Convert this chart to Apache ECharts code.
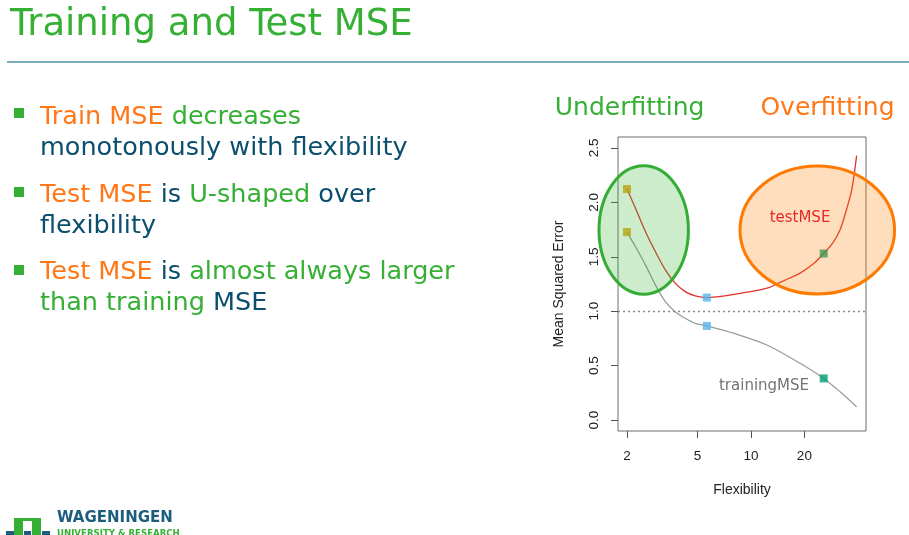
<!DOCTYPE html>
<html><head><meta charset="utf-8">
<script src="https://cdn.jsdelivr.net/npm/echarts@6/dist/echarts.min.js"></script>
<style>html,body{margin:0;padding:0;background:#fff}#c{width:909px;height:535px}</style>
</head><body><div id="c"></div>
<script>
// ---- data ----
const flexTest = [2, 2.23, 2.54, 2.89, 3.29, 3.74, 4.26, 4.85, 5.64, 7.9, 12.3, 14.9, 18.9, 22.5, 25.7, 29, 31.8, 34.5, 37, 39.4];
const testMSE  = [2.122, 1.948, 1.732, 1.548, 1.380, 1.258, 1.180, 1.141, 1.125, 1.152, 1.211, 1.272, 1.350, 1.435, 1.53, 1.63, 1.748, 1.93, 2.116, 2.429];
const flexTrain = [2, 2.23, 2.54, 2.89, 3.29, 3.74, 4.26, 4.85, 5.64, 7.97, 12.3, 18.9, 25.7, 31.8, 39.4];
const trainMSE  = [1.727, 1.594, 1.426, 1.242, 1.088, 0.996, 0.935, 0.889, 0.865, 0.798, 0.690, 0.522, 0.383, 0.260, 0.122];
const markerFlex  = [2, 5.64, 25.7];
const markerTest  = [2.122, 1.125, 1.53];
const markerTrain = [1.727, 0.865, 0.383];
const markerColors = ['#E69F00', '#56B4E9', '#009E73'];
const xTicks = [2, 5, 10, 20];
const yTicks = [0, 0.5, 1, 1.5, 2, 2.5];
const refLevel = 1.0;
const xRange = [1.78, 44.5];
const yRange = [-0.1, 2.6];

const GREEN = '#36b034', ORANGE = '#ff7716', BLUE = '#0b4f6e';
const slideFont = "'DejaVu Sans', Verdana, sans-serif";
const chartFont = "'Liberation Sans', Arial, Helvetica, sans-serif";
const BF = '25.5px ' + slideFont;

const chart = echarts.init(document.getElementById('c'), null, {renderer: 'canvas'});

function bulletLine(text, y) {
  return {type: 'text', x: 40, y: y, z: 20,
    style: {text: text, x: 0, y: 0, font: BF, fill: BLUE, verticalAlign: 'middle',
      rich: {o: {fill: ORANGE, font: BF}, g: {fill: GREEN, font: BF}, b: {fill: BLUE, font: BF}}}};
}
function bulletSquare(y) {
  return {type: 'rect', shape: {x: 14, y: y, width: 10, height: 10}, style: {fill: GREEN}, z: 20};
}

const option = {
  backgroundColor: '#fff',
  animation: false,
  grid: {left: 618, right: 43, top: 137, bottom: 104, show: true, borderColor: '#6f6f6f', borderWidth: 1,
         containLabel: false, outerBoundsMode: 'none'},
  xAxis: [
    {type: 'log', logBase: 10, min: xRange[0], max: xRange[1], show: false},
    {type: 'value', position: 'bottom', min: Math.log10(xRange[0]), max: Math.log10(xRange[1]),
     name: 'Flexibility', nameLocation: 'middle', nameGap: 52,
     nameTextStyle: {fontFamily: chartFont, fontSize: 14, color: '#222'},
     axisLine: {show: false}, splitLine: {show: false},
     axisTick: {show: true, inside: false, length: 7, lineStyle: {color: '#555'}, customValues: xTicks.map(v => Math.log10(v))},
     axisLabel: {show: true, margin: 18, fontFamily: chartFont, fontSize: 13.5, color: '#222',
       customValues: xTicks.map(v => Math.log10(v)),
       formatter: v => String(Math.round(Math.pow(10, v)))}}
  ],
  yAxis: {type: 'value', min: yRange[0], max: yRange[1],
    name: 'Mean Squared Error', nameLocation: 'middle', nameGap: 52, nameRotate: 90,
    nameTextStyle: {fontFamily: chartFont, fontSize: 14, color: '#222'},
    axisLine: {show: false}, splitLine: {show: false},
    axisTick: {show: true, length: 7, lineStyle: {color: '#555'}, customValues: yTicks},
    axisLabel: {rotate: 90, margin: 17, fontFamily: chartFont, fontSize: 13.5, color: '#222', customValues: yTicks,
      formatter: v => v.toFixed(1)}},
  series: [
    {type: 'line', name: 'testMSE', xAxisIndex: 0, smooth: 0.3, symbol: 'none',
     data: flexTest.map((x, i) => [x, testMSE[i]]), lineStyle: {color: '#e3302c', width: 1.3}, z: 3,
     markLine: {silent: true, symbol: 'none', label: {show: false},
       lineStyle: {color: '#8a8a8a', type: [2, 3], width: 1.3}, data: [{yAxis: refLevel}]}},
    {type: 'line', name: 'trainingMSE', xAxisIndex: 0, smooth: 0.3, symbol: 'none',
     data: flexTrain.map((x, i) => [x, trainMSE[i]]), lineStyle: {color: '#949c9c', width: 1.3}, z: 3},
    {type: 'scatter', xAxisIndex: 0, symbol: 'rect', symbolSize: 8, z: 4,
     data: markerFlex.map((x, i) => ({value: [x, markerTest[i]], itemStyle: {color: markerColors[i]}}))},
    {type: 'scatter', xAxisIndex: 0, symbol: 'rect', symbolSize: 8, z: 4,
     data: markerFlex.map((x, i) => ({value: [x, markerTrain[i]], itemStyle: {color: markerColors[i]}}))}
  ],
  graphic: [
    // slide title and rule
    {type: 'text', x: 10, y: 25.5, z: 20, style: {text: 'Training and Test MSE', font: '37px ' + slideFont, fill: GREEN, verticalAlign: 'middle'}},
    {type: 'line', shape: {x1: 7, y1: 62, x2: 909, y2: 62}, style: {stroke: '#4f93ad', lineWidth: 1.5}, z: 20},
    // bullets
    bulletSquare(108), bulletSquare(187), bulletSquare(265),
    bulletLine('{o|Train MSE} {g|decreases}', 117.4),
    bulletLine('{b|monotonously with flexibility}', 148.6),
    bulletLine('{o|Test MSE} {b|is} {g|U-shaped} {b|over}', 195.3),
    bulletLine('{b|flexibility}', 226.3),
    bulletLine('{o|Test MSE} {b|is} {g|almost always larger}', 272.3),
    bulletLine('{g|than training} {b|MSE}', 303),
    // region headings
    {type: 'text', x: 629.6, y: 108, z: 20, style: {text: 'Underfitting', font: '25px ' + slideFont, fill: GREEN, align: 'center', verticalAlign: 'middle'}},
    {type: 'text', x: 827.5, y: 108, z: 20, style: {text: 'Overfitting', font: '25px ' + slideFont, fill: ORANGE, align: 'center', verticalAlign: 'middle'}},
    // ellipses
    {type: 'ellipse', shape: {cx: 643.7, cy: 230, rx: 44.7, ry: 64.2}, z: 10,
     style: {fill: 'rgba(52,178,51,0.25)', stroke: '#33ad33', lineWidth: 3}},
    {type: 'ellipse', shape: {cx: 817.3, cy: 230, rx: 77.3, ry: 64}, z: 10,
     style: {fill: 'rgba(255,127,0,0.26)', stroke: '#ff7a00', lineWidth: 3}},
    // curve labels
    {type: 'text', x: 800, y: 218, z: 12, style: {text: 'testMSE', font: '15px ' + slideFont, fill: '#e8282a', align: 'center', verticalAlign: 'middle'}},
    {type: 'text', x: 764, y: 386.5, z: 12, style: {text: 'trainingMSE', font: '15px ' + slideFont, fill: '#737373', align: 'center', verticalAlign: 'middle'}},
    // logo
    {type: 'rect', shape: {x: 14, y: 518, width: 27, height: 17}, style: {fill: GREEN}, z: 20},
    {type: 'rect', shape: {x: 23, y: 521, width: 9, height: 14}, style: {fill: '#fff'}, z: 21},
    {type: 'rect', shape: {x: 6, y: 531, width: 8, height: 4}, style: {fill: '#1c5d7e'}, z: 22},
    {type: 'rect', shape: {x: 24, y: 531, width: 7, height: 4}, style: {fill: '#1c5d7e'}, z: 22},
    {type: 'rect', shape: {x: 42, y: 531, width: 8, height: 4}, style: {fill: '#1c5d7e'}, z: 22},
    {type: 'text', x: 57, y: 518.5, z: 20, style: {text: 'WAGENINGEN', font: 'bold 15px ' + slideFont, fill: '#1c5d7e', verticalAlign: 'middle'}},
    {type: 'text', x: 57, y: 533.5, z: 20, style: {text: 'UNIVERSITY & RESEARCH', font: 'bold 8.6px ' + slideFont, fill: GREEN, verticalAlign: 'middle'}}
  ]
};
chart.setOption(option);
</script>
</body></html>
